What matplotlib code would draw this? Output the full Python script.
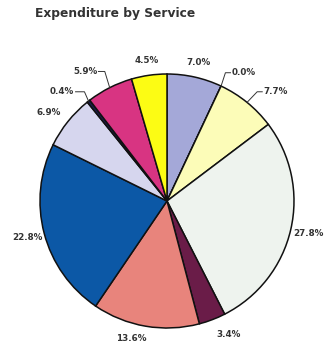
import numpy as np
from matplotlib import pyplot as plt

# 支出の内訳（12時の位置から時計回り）
values = [7.0, 0.0, 7.7, 27.8, 3.4, 13.6, 22.8, 6.9, 0.4, 5.9, 4.5]
labels = ['7.0%', '0.0%', '7.7%', '27.8%', '3.4%', '13.6%', '22.8%',
          '6.9%', '0.4%', '5.9%', '4.5%']
colors = ['#a4a8d8', '#f4f4f4', '#fcfcb8', '#eef3ee', '#6a1c48', '#e8847c',
          '#0c58a6', '#d6d6ee', '#1c1c4c', '#d83482', '#fcfc14']

# ラベルの置き方（半径・角度のずらし・引出線の有無）
label_r = [1.12, 1.0, 1.0, 1.14, 1.16, 1.12, 1.14, 1.16, 1.0, 1.0, 1.12]
label_shift = [0, 0, 0, 0, 4, -5, 0, 2, 0, 0, 0]
leaders = {1: (0.46, 1.01, 0.50), 2: (0.71, 0.86, 0.75),
           8: (-0.65, 0.86, -0.72), 9: (-0.49, 1.02, -0.54)}

plt.rcParams['font.family'] = ['DejaVu Sans']
fig = plt.figure(figsize=(3.27, 3.49), dpi=100)
fig.text(0.107, 0.962, 'Expenditure by Service', fontsize=8.8,
         fontweight='bold', color='#333333', va='center')

ax = fig.add_axes([40 / 327, 21 / 349, 254 / 327, 254 / 349])
wedges, _ = ax.pie(values, colors=colors, startangle=90, counterclock=False,
                   radius=1, wedgeprops=dict(edgecolor='#111111',
                                             linewidth=1.1))
ax.set_xlim(-1, 1)
ax.set_ylim(-1, 1)
ax.set_aspect('equal')
ax.axis('off')

fs = 6.3
for i, w in enumerate(wedges):
    ang = np.deg2rad((w.theta1 + w.theta2) / 2 + label_shift[i])
    if i in leaders:
        # 小さい扇形は引出線でラベルを付ける
        ex, ey = np.cos(ang), np.sin(ang)
        if i == 1:
            ex, ey = np.cos(np.deg2rad(w.theta1)), np.sin(np.deg2rad(w.theta1))
        kx, ky, tx = leaders[i]
        ax.plot([ex, kx, tx], [ey, ky, ky], color='#333333', lw=0.7,
                clip_on=False)
        if tx > kx:
            ax.text(tx + 0.01, ky, labels[i], ha='left', va='center',
                    fontsize=fs, fontweight='bold', color='#333333')
        else:
            ax.text(tx - 0.01, ky, labels[i], ha='right', va='center',
                    fontsize=fs, fontweight='bold', color='#333333')
    else:
        r = label_r[i]
        ax.text(r * np.cos(ang), r * np.sin(ang), labels[i], ha='center',
                va='center', fontsize=fs, fontweight='bold',
                color='#333333')

fig.savefig('out.png', dpi=100)
